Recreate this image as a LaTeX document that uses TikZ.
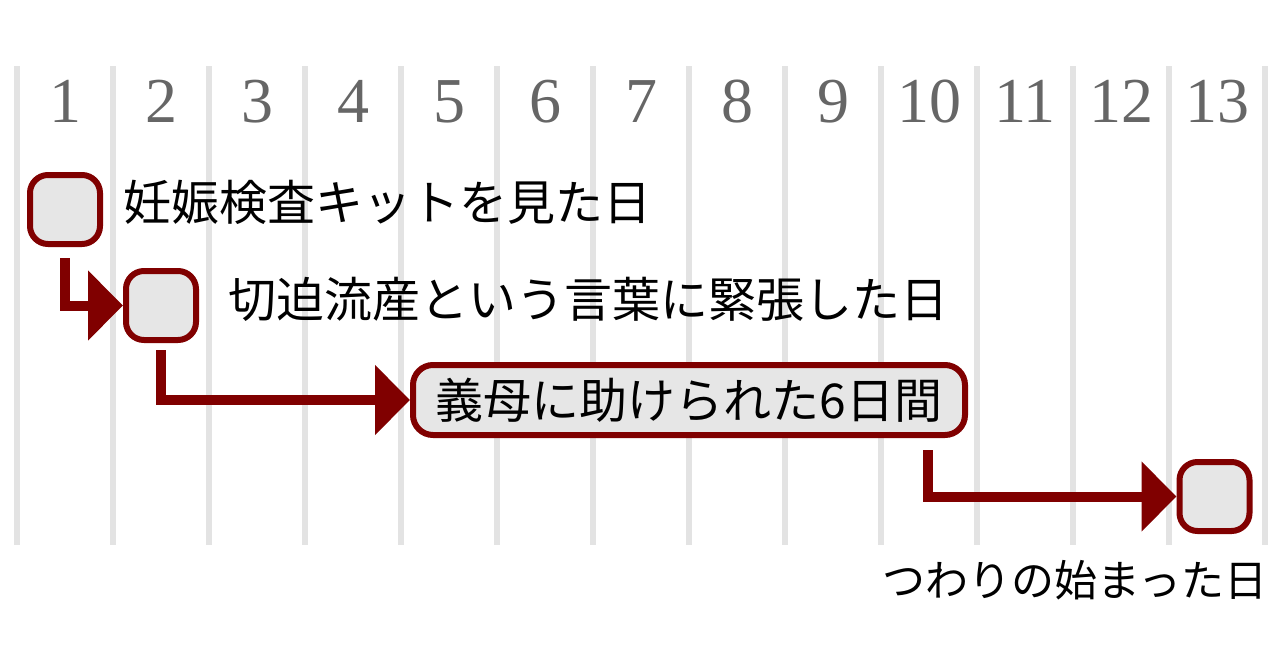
\documentclass[tikz,border=0pt]{standalone}
\usepackage{fontspec}
\setmainfont{Liberation Serif}
\newfontfamily\jpfont{Noto Sans CJK JP}
\usetikzlibrary{arrows.meta}
\definecolor{darkred}{HTML}{800000}
\definecolor{boxfill}{HTML}{E6E6E6}
\definecolor{gridgray}{HTML}{E3E3E3}
\definecolor{numgray}{HTML}{666666}
\begin{document}
\begin{tikzpicture}[x=1pt,y=-1pt,
  gridline/.style={draw=gridgray,line width=6pt},
  daynum/.style={text=numgray,font=\fontsize{64}{64}\selectfont,inner sep=0pt,anchor=base},
  daybox/.style={draw=darkred,fill=boxfill,line width=6pt,rounded corners=18pt,minimum width=70pt,minimum height=69pt,inner sep=0pt},
  spanbox/.style={draw=darkred,fill=boxfill,line width=6pt,rounded corners=20pt,minimum width=552pt,minimum height=70pt,inner sep=0pt,font=\jpfont\fontsize{48}{48}\selectfont},
  label/.style={font=\jpfont\fontsize{48}{48}\selectfont,inner sep=0pt},
  flow/.style={draw=darkred,line width=10pt,-{Triangle[length=35pt,width=68pt]}}]
\useasboundingbox (0,0) rectangle (1280,670);
% grid
\foreach \k in {0,...,13}{
  \draw[gridline] (17+96*\k,66) -- (17+96*\k,545);
}
\foreach \k in {1,...,13}{
  \node[daynum] (n\k) at (96*\k-31,122) {\k};
}
% boxes
\node[daybox] (b1) at (65,209.5) {};
\node[daybox] (b2) at (161,305.5) {};
\node[spanbox] (b3) at (689,400) {義母に助けられた6日間};
\node[daybox] (b4) at (1214.5,496.5) {};
% labels
\node[label,anchor=west] (l1) at (123,202) {妊娠検査キットを見た日};
\node[label,anchor=west] (l2) at (228,299) {切迫流産という言葉に緊張した日};
\node[label,anchor=east,font=\jpfont\fontsize{43}{43}\selectfont] (l4) at (1268,580) {つわりの始まった日};
% connectors
\coordinate (s1) at ([yshift=-11pt]b1.south);
\coordinate (s2) at ([yshift=-7pt]b2.south);
\coordinate (s3) at ([shift={(-40pt,-12pt)}]b3.south east);
\draw[flow] (s1) |- (b2.west);
\draw[flow] (s2) |- (b3.west);
\draw[flow] (s3) |- (b4.west);
\end{tikzpicture}
\end{document}
